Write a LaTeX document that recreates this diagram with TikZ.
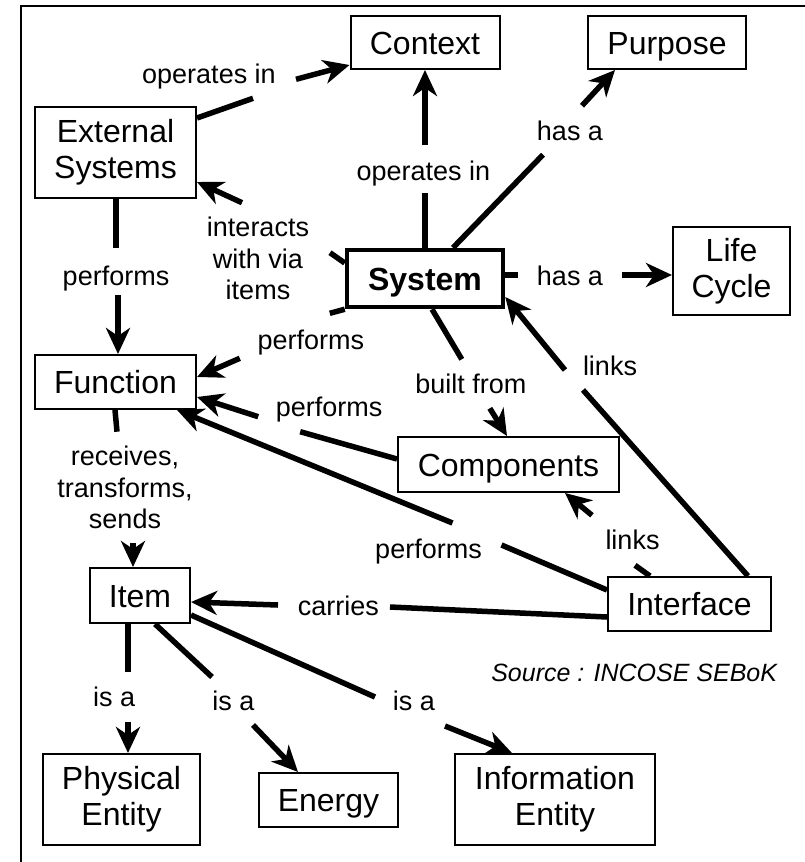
\documentclass[tikz,border=0pt]{standalone}
\usepackage{fontspec}
\setmainfont{Liberation Sans}
\usetikzlibrary{arrows.meta}
\begin{document}
\begin{tikzpicture}[x=1pt,y=-1pt,
  concept/.style={draw, line width=2pt, inner sep=0pt, align=center,
    font=\fontsize{32}{36}\selectfont},
  oneline/.style={text height=23pt, text depth=0pt},
  linkword/.style={anchor=base, inner sep=0pt, align=center,
    font=\fontsize{27}{31.5}\selectfont},
  link/.style={line width=5.5pt},
  linkarrow/.style={link, -{Stealth[length=26pt,width=24pt,inset=8pt]}},
]
\useasboundingbox (0,0) rectangle (805,862);

% frame
\draw[line width=2pt] (20.5,862) -- (20.5,5.5) -- (805,5.5);

% concepts
\node[concept, oneline, minimum width=149pt, minimum height=53pt] (ctx) at (425,42.5) {Context};
\node[concept, oneline, minimum width=158pt, minimum height=53pt] (pur) at (667,42.5) {Purpose};
\node[concept, minimum width=161pt, minimum height=91pt] (ext) at (115.5,152.5) {External\\Systems};
\node[concept, oneline, line width=4.5pt, minimum width=156pt, minimum height=57pt,
  font=\fontsize{32}{36}\selectfont\bfseries] (sys) at (425,278.5) {System};
\node[concept, minimum width=117pt, minimum height=88pt] (life) at (731.5,271) {Life\\Cycle};
\node[concept, oneline, minimum width=161pt, minimum height=54pt] (fun) at (115.5,382) {Function};
\node[concept, oneline, minimum width=221pt, minimum height=55pt] (comp) at (508.5,464.5) {Components};
\node[concept, oneline, minimum width=100pt, minimum height=55pt] (item) at (140,595.5) {Item};
\node[concept, oneline, minimum width=163pt, minimum height=54pt] (intf) at (689.5,604) {Interface};
\node[concept, minimum width=157pt, minimum height=91pt] (phys) at (121.5,799.5) {Physical\\Entity};
\node[concept, oneline, minimum width=139pt, minimum height=54pt] (energy) at (328.5,800) {Energy};
\node[concept, minimum width=200pt, minimum height=91pt] (info) at (555,799.5) {Information\\Entity};

% linking phrases (placed on the baseline of their last line)
\node[linkword] (l1) at (209,83.3) {operates in};
\node[linkword] (l2) at (423.3,180) {operates in};
\node[linkword] (l3) at (570,140.7) {has a};
\node[linkword] (l4) at (258,299.7) {interacts\\with via\\items};
\node[linkword] (l5) at (116,285) {performs};
\node[linkword] (l6) at (570,285) {has a};
\node[linkword] (l7) at (310.8,349.3) {performs};
\node[linkword] (l8) at (470.8,393.3) {built from};
\node[linkword] (l9) at (610,375) {links};
\node[linkword] (l10) at (329.2,416.7) {performs};
\node[linkword] (l11) at (125,528.5) {receives,\\transforms,\\sends};
\node[linkword] (l12) at (428.5,558) {performs};
\node[linkword] (l13) at (632.5,549.3) {links};
\node[linkword] (l14) at (338.3,615) {carries};
\node[linkword] (l15) at (114.2,706.7) {is a};
\node[linkword] (l16) at (233.3,710) {is a};
\node[linkword] (l17) at (414,710) {is a};
\node[anchor=base, inner sep=0pt, font=\fontsize{25}{30}\selectfont\itshape] (src)
  at (634.2,681.7) {Source : INCOSE SEBoK};

% External Systems -- operates in --> Context
\draw[link] (ext.east |- 0,118) -- ([shift={(44,15)}]l1.base);
\draw[linkarrow] ([shift={(87,-4)}]l1.base) -- (ctx.west |- 0,65);
% System -- operates in --> Context
\draw[link] (sys.north) -- ([shift={(1.7,13)}]l2.base);
\draw[linkarrow] ([shift={(1.7,-35)}]l2.base) -- (ctx.south);
% System -- has a --> Purpose
\draw[link] (sys.north -| 453,0) -- ([shift={(-27,14)}]l3.base);
\draw[linkarrow] ([shift={(12,-35)}]l3.base) -- (pur.south -| 615,0);
% System -- interacts with via items --> External Systems
\draw[link] (sys.west |- 0,263) -- ([shift={(72,-47)}]l4.base);
\draw[linkarrow] ([shift={(-16,-97)}]l4.base) -- (ext.east |- 0,182);
% External Systems -- performs --> Function
\draw[link] (ext.south -| 116,0) -- ([shift={(0,-37)}]l5.base);
\draw[linkarrow] ([shift={(2,10)}]l5.base) -- (fun.north -| 118,0);
% System -- has a --> Life Cycle
\draw[link] (sys.east |- 0,275) -- ([shift={(-52,-10)}]l6.base);
\draw[linkarrow] ([shift={(52,-10)}]l6.base) -- (life.west |- 0,275);
% System -- performs --> Function
\draw[link] (sys.south west) -- ([shift={(19,-36)}]l7.base);
\draw[linkarrow] ([shift={(-71,9)}]l7.base) -- (fun.east |- 0,377);
% System -- built from --> Components
\draw[link] (sys.south -| 432,0) -- ([shift={(-9,-34)}]l8.base);
\draw[linkarrow] ([shift={(19,15)}]l8.base) -- (comp.north -| 507,0);
% Interface -- links --> System
\draw[link] (intf.north -| 748,0) -- ([shift={(-27,15)}]l9.base);
\draw[linkarrow] ([shift={(-45,-5)}]l9.base) -- (sys.east |- 0,297);
% Components -- performs --> Function
\draw[link] (comp.west |- 0,459) -- ([shift={(-29,15)}]l10.base);
\draw[linkarrow] ([shift={(-71,0)}]l10.base) -- (fun.east |- 0,397);
% Function -- receives, transforms, sends --> Item
\draw[link] (fun.south -| 115,0) -- ([shift={(-8,-96.8)}]l11.base);
\draw[linkarrow] ([shift={(8,14.2)}]l11.base) -- (item.north -| 133,0);
% Interface -- performs --> Function
\draw[link] (intf.west |- 0,590) -- ([shift={(73,-13)}]l12.base);
\draw[linkarrow] ([shift={(24,-35)}]l12.base) -- (fun.south -| 177,0);
% Interface -- links --> Components
\draw[link] (intf.north -| 650,0) -- ([shift={(2.5,16)}]l13.base);
\draw[linkarrow] ([shift={(-40.5,-34)}]l13.base) -- (comp.south -| 565,0);
% Interface -- carries --> Item
\draw[link] (intf.west |- 0,617) -- ([shift={(51.7,-8)}]l14.base);
\draw[linkarrow] ([shift={(-60.3,-10)}]l14.base) -- (item.east |- 0,602);
% Item -- is a --> Physical Entity / Energy / Information Entity
\draw[link] (item.south -| 128,0) -- ([shift={(13.8,-34.7)}]l15.base);
\draw[linkarrow] ([shift={(13.8,15.3)}]l15.base) -- (phys.north -| 128,0);
\draw[link] (item.south -| 155,0) -- ([shift={(-21.3,-33)}]l16.base);
\draw[linkarrow] ([shift={(19.7,15)}]l16.base) -- (energy.north -| 298,0);
\draw[link] (item.east |- 0,615) -- ([shift={(-39,-13)}]l17.base);
\draw[linkarrow] ([shift={(31,16)}]l17.base) -- (info.north -| 512,0);
\end{tikzpicture}
\end{document}
